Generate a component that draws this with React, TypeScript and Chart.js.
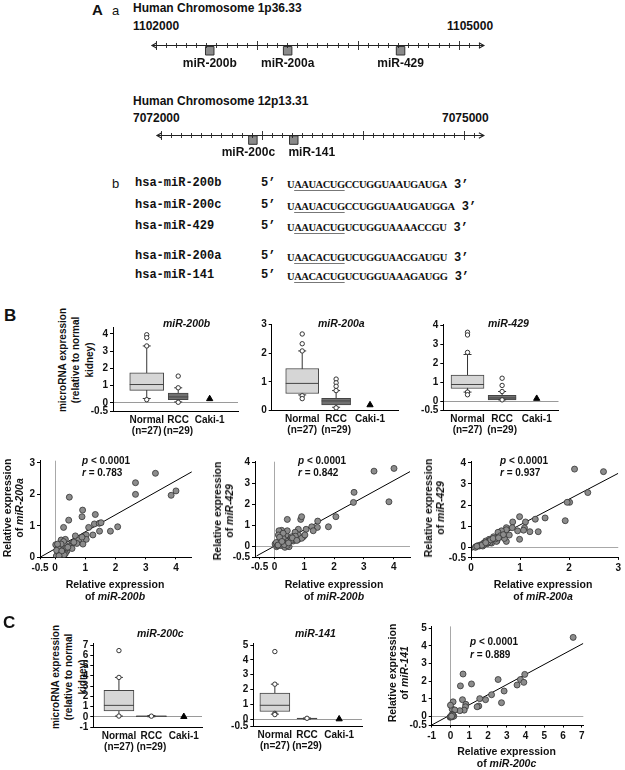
import React, { useEffect, useRef } from "react";
import { Chart, registerables } from "chart.js";
Chart.register(...registerables);

const SANS = "'Liberation Sans', Arial, Helvetica, sans-serif";
const MONO = "'Liberation Mono', 'Courier New', monospace";
const SERIF = "'Liberation Serif', 'Times New Roman', serif";

// ---------- Panel A (a): chromosome maps ----------
const chr1Genes = ["miR-200b", "miR-200a", "miR-429"];
const chr1Positions = [1102533, 1103305, 1104424];
const chr1Labels = ["1102000", "1105000"];
const chr12Genes = ["miR-200c", "miR-141"];
const chr12Positions = [7072911, 7073316];
const chr12Labels = ["7072000", "7075000"];

// ---------- Panel A (b): sequences ----------
const seqNames = ["hsa-miR-200b", "hsa-miR-200c", "hsa-miR-429", "hsa-miR-200a", "hsa-miR-141"];
const seqs = [
  "UAAUACUGCCUGGUAAUGAUGA",
  "UAAUACUGCCUGGUAAUGAUGGA",
  "UAAUACUGUCUGGUAAAACCGU",
  "UAACACUGUCUGGUAACGAUGU",
  "UAACACUGUCUGGUAAAGAUGG",
];

// ---------- Box plots: [lower whisker, Q1, median, Q3, upper whisker] ----------
const boxCategories = [["Normal", "(n=27)"], ["RCC", "(n=29)"], ["Caki-1"]];
const miR200bNormal = [0.25, 0.72, 1.06, 1.74, 3.3];
const miR200bNormalOut = [3.95, 3.78, 3.3, 0.18];
const miR200bRCC = [0.05, 0.18, 0.34, 0.57, 0.87];
const miR200bRCCOut = [1.55, 0.87, 0.03];
const miR200bCaki = [0.23];

const miR200aNormal = [0.55, 0.6, 0.95, 1.47, 2.08];
const miR200aNormalOut = [2.67, 2.33, 2.08, 0.52, 0.42];
const miR200aRCC = [0.12, 0.2, 0.34, 0.43, 0.7];
const miR200aRCCOut = [1.1, 0.97, 0.85, 0.7, 0.1];
const miR200aCaki = [0.2];

const miR429Normal = [0.47, 0.66, 0.87, 1.37, 2.45];
const miR429NormalOut = [3.62, 3.48, 2.56, 0.47, 0.33];
const miR429RCC = [0.06, 0.06, 0.16, 0.3, 0.5];
const miR429RCCOut = [1.2, 0.82, 0.5, 0.06];
const miR429Caki = [0.13];

const miR200cNormal = [0.09, 0.59, 1.13, 2.6, 3.85];
const miR200cNormalOut = [6.46, 3.85, 0.09];
const miR200cRCC = [0.02, 0.03, 0.07, 0.12, 0.14];
const miR200cRCCOut = [0.08];
const miR200cCaki = [0.03];

const miR141Normal = [0.33, 0.51, 0.93, 1.75, 2.36];
const miR141NormalOut = [4.57, 2.36, 0.38, 0.3];
const miR141RCC = [0.0, 0.01, 0.03, 0.06, 0.07];
const miR141RCCOut = [0.05];
const miR141Caki = [0.0];

// ---------- Scatter plots ----------
const s200bX = [3.32, 2.66, 2.66, 4.0, 3.84, 0.47, 0.91, 0.45, 0.89, 1.33, 0.28, 1.11, 1.3, 1.46, 1.52, 1.47, 1.83, 2.07, 1.25, 1.03, 1.03, 0.67, 0.78, 0.89, 0.56, 0.72, 0.92, 0.5, 0.06, 0.12, 0.17, 0.23, 0.28, 0.39, 0.2, 0.34, 0.28, 0.04, 0.09, 0.45, 0.34, 0.56, 0.26, 0.14, 0.02, 0.2, 0.1, 0.62, 0.38, 0.16, 0.3, 0.05, 0.22, 0.42, 0.08, 0.13];
const s200aY = [2.67, 2.37, 2.0, 2.11, 1.97, 1.91, 1.5, 1.18, 1.29, 1.36, 0.95, 0.95, 1.06, 1.08, 1.1, 0.83, 0.83, 0.97, 0.71, 0.71, 0.57, 0.68, 0.55, 0.64, 0.44, 0.44, 0.42, 0.36, 0.36, 0.24, 0.1, 0.03, 0.28, 0.2, 0.55, 0.57, 0.5, 0.04, 0.18, 0.36, 0.12, 0.28, 0.12, 0.28, 0.4, 0.42, 0.3, 0.48, 0.3, 0.15, 0.08, 0.22, 0.2, 0.32, 0.42, 0.05];
const reg200bVs200a = [{ x: -0.5, y: 0.0 }, { x: 4.53, y: 2.72 }];

const s200bX2 = [3.34, 4.01, 2.67, 2.65, 3.84, 0.88, 0.91, 0.43, 1.45, 2.06, 1.81, 1.44, 1.25, 1.3, 1.06, 0.8, 0.8, 0.69, 0.8, 0.52, 0.63, 0.39, 0.39, 0.43, 0.97, 0.58, 0.91, 1.02, 0.02, 0.07, 0.13, 0.18, 0.2, 0.24, 0.15, 0.27, 0.35, 0.29, 0.2, 0.13, 0.35, 0.49, 0.29, 0.43, 0.06, 0.1, 0.56, 0.7, 0.28, 0.17, 0.33, 0.47, 0.12, 0.6, 0.25, 0.75];
const s429Y = [3.6, 3.73, 2.59, 2.11, 2.14, 1.3, 1.43, 1.3, 1.22, 1.43, 0.95, 0.92, 0.95, 0.76, 0.83, 0.83, 0.56, 0.69, 0.35, 0.35, 0.27, 0.27, 0.56, 0.76, 0.48, 0.48, 0.4, 0.56, 0.13, 0.0, 0.13, 0.32, 0.56, 0.78, 0.76, 0.06, 0.13, 0.4, 0.06, 0.56, -0.03, 0.0, 0.64, 0.06, 0.2, 0.05, 0.3, 0.5, 0.2, 0.45, 0.1, 0.18, 0.08, 0.42, 0.25, 0.3];
const reg200bVs429 = [{ x: -0.6, y: -0.44 }, { x: 4.55, y: 3.58 }];

const s200aX = [2.11, 2.7, 2.38, 2.01, 1.96, 1.92, 1.51, 1.31, 1.37, 1.2, 1.11, 1.09, 1.07, 0.99, 0.99, 0.95, 0.85, 0.84, 0.72, 0.72, 0.72, 0.58, 0.57, 0.53, 0.62, 0.55, 0.48, 0.44, 0.37, 0.3, 0.26, 0.24, 0.17, 0.1, 0.33, 0.42, 0.52, 0.64, 0.68, 0.46, 0.39, 0.78, 0.09, 0.2, 0.14, 0.35, 0.6, 0.28, 0.5, 0.22, 0.66, 0.4, 0.3, 0.45, 0.56, 0.12];
const s429Y2 = [3.7, 3.58, 2.59, 2.13, 2.13, 1.26, 1.39, 1.33, 0.74, 0.74, 1.2, 0.92, 0.81, 1.45, 0.38, 0.78, 1.2, 0.93, 0.93, 0.83, 0.28, 0.63, 0.5, 0.31, 0.78, 0.71, 0.46, 0.3, 0.38, 0.3, 0.2, 0.06, 0.06, 0.03, 0.17, 0.2, 0.28, 0.5, 0.42, 0.5, 0.22, 0.58, 0.0, 0.12, 0.08, 0.25, 0.55, 0.15, 0.4, 0.1, 0.6, 0.35, 0.22, 0.42, 0.45, 0.05];
const reg200aVs429 = [{ x: 0, y: -0.16 }, { x: 3, y: 3.5 }];

const s200cX = [6.54, 3.96, 3.73, 3.91, 3.55, 2.54, 2.86, 2.72, 2.19, 1.87, 1.56, 1.51, 1.42, 1.12, 0.67, 0.53, 0.64, 0.82, 0.8, 0.73, 0.5, 0.14, 0.09, 0.0, 0.23, 0.0, 0.1, 0.18, -0.02, 0.09, 0.05, 0.03, 0.12, 0.02, 0.06];
const s141Y = [4.48, 2.39, 2.1, 1.94, 1.79, 2.1, 1.45, 0.79, 1.24, 0.96, 1.02, 0.6, 0.56, 1.85, 2.41, 1.74, 0.96, 0.7, 0.56, 0.37, 0.34, 0.84, 0.43, 0.65, 0.38, 0.0, 0.0, 0.03, -0.03, 0.13, 0.05, 0.02, 0.08, -0.01, 0.03];
const reg200cVs141 = [{ x: -1, y: -0.47 }, { x: 7.08, y: 4.14 }];

// ---------- helpers ----------
type Area = { L: number; T: number; R: number; B: number };

function place(a: Area, yw: number, xh: number, pt: number, pr: number) {
  const left = Math.floor(a.L - yw);
  const top = Math.floor(a.T - pt);
  const width = Math.ceil(a.R + pr) - left;
  const height = Math.ceil(a.B + xh) - top;
  return { left, top, width, height, yw: a.L - left, pt: a.T - top, pr: left + width - a.R, xh: top + height - a.B };
}

const tickFont = { family: SANS, size: 10, weight: "bold" as const, lineHeight: 1.1 };

function ChartCanvas({ left, top, width, height, make }: any) {
  const ref = useRef<HTMLCanvasElement>(null);
  useEffect(() => {
    const c = new Chart(ref.current as HTMLCanvasElement, make());
    return () => c.destroy();
  }, []);
  return <canvas ref={ref} width={width} height={height} style={{ position: "absolute", left, top, width, height }} />;
}

const baseOpts = {
  animation: false,
  responsive: false,
  devicePixelRatio: 1,
  events: [],
  plugins: { legend: { display: false }, tooltip: { enabled: false }, title: { display: false } },
};

const chromPlugin = {
  id: "chromAxis",
  afterDatasetsDraw(chart: any, _a: any, o: any) {
    const { ctx } = chart;
    const xs = chart.scales.x;
    const ys = chart.scales.y;
    const py = Math.round(ys.getPixelForValue(o.level)) + 0.5;
    const x0 = xs.getPixelForValue(o.from);
    const x1 = xs.getPixelForValue(o.to);
    ctx.save();
    ctx.strokeStyle = "#222";
    ctx.lineWidth = 1.1;
    ctx.beginPath();
    ctx.moveTo(x0, py);
    ctx.lineTo(x1, py);
    ctx.moveTo(x0 + 5, py - 2.8);
    ctx.lineTo(x0, py);
    ctx.lineTo(x0 + 5, py + 2.8);
    ctx.moveTo(x1 - 5, py - 2.8);
    ctx.lineTo(x1, py);
    ctx.lineTo(x1 - 5, py + 2.8);
    ctx.stroke();
    ctx.lineWidth = 0.9;
    ctx.beginPath();
    for (let v = o.tickFrom; v <= o.tickTo + 1e-6; v += o.step) {
      const px = Math.round(xs.getPixelForValue(v)) + 0.5;
      const isMajor = Math.abs((v - o.tickFrom) % o.major) < 1e-6;
      const h = isMajor ? 4.5 : 2.5;
      ctx.moveTo(px, py - h);
      ctx.lineTo(px, py + h);
    }
    ctx.stroke();
    const meta = chart.getDatasetMeta(0);
    ctx.fillStyle = "#111";
    ctx.font = `bold 12px ${SANS}`;
    ctx.textAlign = "center";
    ctx.textBaseline = "middle";
    meta.data.forEach((pt: any, i: number) => {
      ctx.fillText(o.labels[i], pt.x + (o.labelDx[i] || 0), pt.y + o.labelDy);
    });
    ctx.restore();
  },
};

function chromConfig(genes: string[], positions: number[], min: number, max: number, from: number, to: number, tickFrom: number, tickTo: number, boxLevel: number, labelDx: number[], labelDy: number) {
  return () => ({
    type: "scatter",
    data: {
      datasets: [
        {
          data: positions.map((p) => ({ x: p, y: boxLevel })),
          pointStyle: "rect",
          pointRadius: 6,
          backgroundColor: "#8a8a8a",
          borderColor: "#333",
          borderWidth: 1,
        },
      ],
    },
    options: {
      ...baseOpts,
      layout: { padding: 0 },
      scales: {
        x: { type: "linear", display: false, min, max },
        y: { type: "linear", display: false, min: 0, max: 1 },
      },
      plugins: {
        ...baseOpts.plugins,
        chromAxis: { level: 0.74, from, to, tickFrom, tickTo, step: 100, major: 1000, labels: genes, labelDx, labelDy },
      },
    },
    plugins: [chromPlugin],
  });
}

type Group = { stats: number[]; out: number[]; width: number; fill: string };
type BoxSpec = { area: Area; xr: number[]; yr: number[]; yTicks: number[]; groups: Group[]; caki: number[] };

function boxChart(s: BoxSpec, key: string) {
  const p = place(s.area, 34, 30, 8, 6);
  const make = () => {
    const datasets: any[] = [];
    s.groups.forEach((g, i) => {
      const x = i + 1;
      const [lo, q1, med, q3, hi] = g.stats;
      datasets.push({ type: "line", data: [{ x, y: lo }, { x, y: hi }], borderColor: "#333", borderWidth: 1, pointRadius: 0, order: 6 });
      datasets.push({
        type: "bar",
        data: [{ x, y: [q1, q3] }],
        backgroundColor: g.fill,
        borderColor: "#444",
        borderWidth: 1,
        borderSkipped: false,
        grouped: false,
        barThickness: g.width,
        maxBarThickness: g.width,
        order: 5,
      });
      datasets.push({ type: "scatter", data: [{ x, y: med }], pointStyle: "line", pointRadius: g.width / 2, borderColor: "#444", pointBorderColor: "#444", borderWidth: 1, pointBorderWidth: 1, order: 4 });
      datasets.push({ type: "scatter", data: [{ x, y: lo }, { x, y: hi }], pointStyle: "line", pointRadius: 4, borderColor: "#333", pointBorderColor: "#333", borderWidth: 1, pointBorderWidth: 1, order: 4 });
      datasets.push({
        type: "scatter",
        data: g.out.map((v) => ({ x, y: v })),
        pointStyle: "circle",
        pointRadius: 2.2,
        backgroundColor: "#fff",
        pointBackgroundColor: "#fff",
        borderColor: "#333",
        pointBorderColor: "#333",
        borderWidth: 1,
        pointBorderWidth: 1,
        order: 2,
      });
    });
    datasets.push({
      type: "scatter",
      data: s.caki.map((v) => ({ x: 3, y: v })),
      pointStyle: "triangle",
      pointRadius: 3.6,
      backgroundColor: "#000",
      pointBackgroundColor: "#000",
      borderColor: "#000",
      pointBorderColor: "#000",
      order: 1,
    });
    return {
      type: "scatter",
      data: { datasets },
      options: {
        ...baseOpts,
        layout: { padding: { top: p.pt, right: p.pr, left: 0, bottom: 0 } },
        scales: {
          x: {
            type: "linear",
            min: s.xr[0],
            max: s.xr[1],
            offset: false,
            afterBuildTicks: (sc: any) => {
              sc.ticks = [1, 2, 3].map((v) => ({ value: v }));
            },
            ticks: {
              autoSkip: false,
              maxRotation: 0,
              padding: 3,
              color: "#111",
              font: tickFont,
              callback: (v: number) => boxCategories[Math.round(v) - 1],
            },
            grid: { display: false, offset: false, drawTicks: false },
            border: { color: "#000", width: 1 },
            afterFit: (sc: any) => {
              sc.height = p.xh;
            },
          },
          y: {
            type: "linear",
            min: s.yr[0],
            max: s.yr[1],
            afterBuildTicks: (sc: any) => {
              sc.ticks = s.yTicks.map((v) => ({ value: v }));
            },
            ticks: { autoSkip: false, padding: 2, color: "#111", font: tickFont, callback: (v: number) => String(v) },
            grid: {
              color: (c: any) => (c.tick && c.tick.value === 0 ? "#9a9a9a" : "rgba(0,0,0,0)"),
              tickColor: "#000",
              tickLength: 3,
              lineWidth: 1,
              offset: false,
            },
            border: { color: "#000", width: 1 },
            afterFit: (sc: any) => {
              sc.width = p.yw;
            },
          },
        },
      },
    };
  };
  return <ChartCanvas key={key} left={p.left} top={p.top} width={p.width} height={p.height} make={make} />;
}

type ScatterSpec = { area: Area; xr: number[]; yr: number[]; xTicks: number[]; yTicks: number[]; xs: number[]; ys: number[]; reg: { x: number; y: number }[] };

function scatterChart(s: ScatterSpec, key: string, pr = 8) {
  const p = place(s.area, 30, 20, 8, pr);
  const make = () => ({
    type: "scatter",
    data: {
      datasets: [
        { type: "scatter", data: s.xs.map((x, i) => ({ x, y: s.ys[i] })), pointRadius: 3, backgroundColor: "#8c8c8c", pointBackgroundColor: "#8c8c8c", borderColor: "#333", pointBorderColor: "#333", borderWidth: 0.8, pointBorderWidth: 0.8, order: 1 },
        { type: "line", data: s.reg, borderColor: "#000", borderWidth: 1, pointRadius: 0, order: 2 },
      ],
    },
    options: {
      ...baseOpts,
      layout: { padding: { top: p.pt, right: p.pr, left: 0, bottom: 0 } },
      scales: {
        x: {
          type: "linear",
          min: s.xr[0],
          max: s.xr[1],
          offset: false,
          afterBuildTicks: (sc: any) => {
            sc.ticks = s.xTicks.map((v) => ({ value: v }));
          },
          ticks: { autoSkip: false, maxRotation: 0, padding: 3, color: "#111", font: tickFont, callback: (v: number) => String(v) },
          grid: { color: (c: any) => (c.tick && c.tick.value === 0 ? "#a8a8a8" : "rgba(0,0,0,0)"), tickColor: "#000", tickLength: 2, offset: false },
          border: { color: "#000", width: 1 },
          afterFit: (sc: any) => {
            sc.height = p.xh;
          },
        },
        y: {
          type: "linear",
          min: s.yr[0],
          max: s.yr[1],
          afterBuildTicks: (sc: any) => {
            sc.ticks = s.yTicks.map((v) => ({ value: v }));
          },
          ticks: { autoSkip: false, padding: 2, color: "#111", font: tickFont, callback: (v: number) => String(v) },
          grid: { color: (c: any) => (c.tick && c.tick.value === 0 ? "#a8a8a8" : "rgba(0,0,0,0)"), tickColor: "#000", tickLength: 3, offset: false },
          border: { color: "#000", width: 1 },
          afterFit: (sc: any) => {
            sc.width = p.yw;
          },
        },
      },
    },
  });
  return <ChartCanvas key={key} left={p.left} top={p.top} width={p.width} height={p.height} make={make} />;
}

function Txt({ x, y, children, size = 10.5, align = "left", bold = true, italic = false, family = SANS }: any) {
  const tx = align === "left" ? "0" : align === "center" ? "-50%" : "-100%";
  return (
    <div
      style={{
        position: "absolute",
        left: x,
        top: y,
        transform: `translate(${tx},-50%)`,
        fontFamily: family,
        fontSize: size,
        fontWeight: bold ? 700 : 400,
        fontStyle: italic ? "italic" : "normal",
        lineHeight: 1,
        whiteSpace: "nowrap",
        color: "#111",
      }}
    >
      {children}
    </div>
  );
}

function VTxt({ cx, cy, lines, size = 10.5, lh = 12 }: any) {
  return (
    <div
      style={{
        position: "absolute",
        left: cx,
        top: cy,
        transform: "translate(-50%,-50%) rotate(-90deg)",
        textAlign: "center",
        whiteSpace: "nowrap",
        fontFamily: SANS,
        fontWeight: 700,
        fontSize: size,
        lineHeight: `${lh}px`,
        color: "#111",
      }}
    >
      {lines.map((l: any, i: number) => (
        <div key={i}>{l}</div>
      ))}
    </div>
  );
}

const NORMAL_FILL = "#d6d6d6";
const RCC_FILL = "#717171";

const box200b: BoxSpec = {
  area: { L: 113, T: 317, R: 250, B: 411.4 },
  xr: [-0.072, 3.9],
  yr: [-0.5, 4.4],
  yTicks: [-0.5, 0, 1, 2, 3, 4],
  groups: [
    { stats: miR200bNormal, out: miR200bNormalOut, width: 34, fill: NORMAL_FILL },
    { stats: miR200bRCC, out: miR200bRCCOut, width: 20, fill: RCC_FILL },
  ],
  caki: miR200bCaki,
};
const box200a: BoxSpec = {
  area: { L: 271.7, T: 315, R: 410, B: 410.7 },
  xr: [0.1, 3.84],
  yr: [0, 3],
  yTicks: [0, 1, 2, 3],
  groups: [
    { stats: miR200aNormal, out: miR200aNormalOut, width: 33, fill: NORMAL_FILL },
    { stats: miR200aRCC, out: miR200aRCCOut, width: 29, fill: RCC_FILL },
  ],
  caki: miR200aCaki,
};
const box429: BoxSpec = {
  area: { L: 443.3, T: 315, R: 570, B: 410.5 },
  xr: [0.3, 3.63],
  yr: [-0.5, 4.03],
  yTicks: [-0.5, 0, 1, 2, 3, 4],
  groups: [
    { stats: miR429Normal, out: miR429NormalOut, width: 33, fill: NORMAL_FILL },
    { stats: miR429RCC, out: miR429RCCOut, width: 28, fill: RCC_FILL },
  ],
  caki: miR429Caki,
};
const box200c: BoxSpec = {
  area: { L: 93.3, T: 635, R: 212, B: 727.25 },
  xr: [0.21, 3.56],
  yr: [-1, 7.2],
  yTicks: [-1, 0, 1, 2, 3, 4, 5, 6, 7],
  groups: [
    { stats: miR200cNormal, out: miR200cNormalOut, width: 30, fill: NORMAL_FILL },
    { stats: miR200cRCC, out: miR200cRCCOut, width: 30, fill: RCC_FILL },
  ],
  caki: miR200cCaki,
};
const box141: BoxSpec = {
  area: { L: 253.3, T: 635, R: 371.7, B: 726.4 },
  xr: [0.33, 3.71],
  yr: [-0.5, 5.15],
  yTicks: [-0.5, 0, 1, 2, 3, 4, 5],
  groups: [
    { stats: miR141Normal, out: miR141NormalOut, width: 30, fill: NORMAL_FILL },
    { stats: miR141RCC, out: miR141RCCOut, width: 20, fill: RCC_FILL },
  ],
  caki: miR141Caki,
};

const sc1: ScatterSpec = { area: { L: 40, T: 460.7, R: 191.7, B: 557.3 }, xr: [-0.5, 4.52], yr: [0, 3.07], xTicks: [-0.5, 0, 1, 2, 3, 4], yTicks: [0, 1, 2, 3], xs: s200bX, ys: s200aY, reg: reg200bVs200a };
const sc2: ScatterSpec = { area: { L: 255, T: 461.7, R: 410, B: 557.2 }, xr: [-0.654, 4.547], yr: [-0.5, 4.05], xTicks: [-0.5, 0, 1, 2, 3, 4], yTicks: [-0.5, 0, 1, 2, 3, 4], xs: s200bX2, ys: s429Y, reg: reg200bVs429 };
const sc3: ScatterSpec = { area: { L: 471, T: 461.7, R: 620, B: 557.9 }, xr: [0, 3.0], yr: [-0.5, 4.05], xTicks: [0, 1, 2, 3], yTicks: [-0.5, 0, 1, 2, 3, 4], xs: s200aX, ys: s429Y2, reg: reg200aVs429 };
const sc4: ScatterSpec = { area: { L: 431.7, T: 626.4, R: 583.3, B: 725.55 }, xr: [-1, 7.08], yr: [-0.5, 5.1], xTicks: [-1, 0, 1, 2, 3, 4, 5, 6, 7], yTicks: [-0.5, 0, 1, 2, 3, 4, 5], xs: s200cX, ys: s141Y, reg: reg200cVs141 };

const seqRowY = [183, 204.5, 226, 256, 275];

function PR({ x, y, r }: any) {
  return (
    <>
      <Txt x={x} y={y} size={10}>
        <i>p</i> &lt; 0.0001
      </Txt>
      <Txt x={x} y={y + 12.6} size={10}>
        <i>r</i> = {r}
      </Txt>
    </>
  );
}

function XTitle({ cx, y, name }: any) {
  return (
    <>
      <Txt x={cx} y={y} align="center">Relative expression</Txt>
      <Txt x={cx} y={y + 12} align="center">
        of <i>{name}</i>
      </Txt>
    </>
  );
}

export default function App() {
  return (
    <div style={{ position: "absolute", left: 0, top: 0, width: 625, height: 770, background: "#fff", overflow: "hidden" }}>
      {/* Panel A */}
      <Txt x={92} y={9} size={15}>A</Txt>
      <Txt x={112} y={10} size={13} bold={false}>a</Txt>
      <Txt x={133} y={8} size={12}>Human Chromosome 1p36.33</Txt>
      <Txt x={133} y={25.5} size={12}>{chr1Labels[0]}</Txt>
      <Txt x={447} y={25.5} size={12}>{chr1Labels[1]}</Txt>
      <ChartCanvas left={140} top={30} width={360} height={45} make={chromConfig(chr1Genes, chr1Positions, 1101911.4, 1105340, 1101960, 1105250, 1102000, 1105200, 0.556, [0, 0, 0], 12.5)} />
      <Txt x={133} y={101} size={12}>Human Chromosome 12p13.31</Txt>
      <Txt x={133} y={117.5} size={12}>{chr12Labels[0]}</Txt>
      <Txt x={442} y={117.5} size={12}>{chr12Labels[1]}</Txt>
      <ChartCanvas left={145} top={120} width={360} height={45} make={chromConfig(chr12Genes, chr12Positions, 7071911.4, 7075340, 7071960, 7075200, 7072000, 7075100, 0.578, [-4.5, 18], 13)} />

      <Txt x={112} y={183} size={13} bold={false}>b</Txt>
      {seqNames.map((n, i) => (
        <React.Fragment key={n}>
          <Txt x={135} y={seqRowY[i]} family={MONO} size={12}>{n}</Txt>
          <Txt x={261} y={seqRowY[i]} family={MONO} size={12}>5’</Txt>
          <div style={{ position: "absolute", left: 287, top: seqRowY[i], transform: "translateY(-50%)", whiteSpace: "nowrap", lineHeight: 1, color: "#111" }}>
            <span style={{ fontFamily: SERIF, fontWeight: 700, fontSize: 10.5, letterSpacing: -0.45 }}>
              {seqs[i][0]}
              <span style={{ textDecoration: "underline", textDecorationColor: "#777", textUnderlineOffset: 2 }}>{seqs[i].slice(1, 8)}</span>
              {seqs[i].slice(8)}
            </span>
            <span style={{ fontFamily: MONO, fontWeight: 700, fontSize: 12 }}> 3’</span>
          </div>
        </React.Fragment>
      ))}

      {/* Panel B */}
      <Txt x={4} y={315} size={17}>B</Txt>
      <VTxt cx={75.8} cy={360} size={10} lh={13.3} lines={["microRNA expression", "(relative to normal", "kidney)"]} />
      {boxChart(box200b, "b1")}
      {boxChart(box200a, "b2")}
      {boxChart(box429, "b3")}
      <Txt x={163} y={323} italic>miR-200b</Txt>
      <Txt x={318} y={323} italic>miR-200a</Txt>
      <Txt x={488} y={323} italic>miR-429</Txt>

      {scatterChart(sc1, "s1")}
      {scatterChart(sc2, "s2")}
      {scatterChart(sc3, "s3", 4)}
      <PR x={82} y={460.7} r="0.783" />
      <PR x={298} y={460.7} r="0.842" />
      <PR x={500} y={460.7} r="0.937" />
      <XTitle cx={115} y={584} name="miR-200b" />
      <XTitle cx={334} y={584} name="miR-200b" />
      <XTitle cx={543} y={584} name="miR-200a" />
      <VTxt cx={13} cy={508} lines={["Relative expression", <span key="a">of <i>miR-200a</i></span>]} />
      <VTxt cx={223} cy={511} lines={["Relative expression", <span key="a">of <i>miR-429</i></span>]} />
      <VTxt cx={434} cy={508} lines={["Relative expression", <span key="a">of <i>miR-429</i></span>]} />

      {/* Panel C */}
      <Txt x={3} y={622} size={17}>C</Txt>
      <VTxt cx={69.3} cy={676.7} size={10} lh={13.3} lines={["microRNA expression", "(relative to normal", "kidney)"]} />
      {boxChart(box200c, "c1")}
      {boxChart(box141, "c2")}
      <Txt x={137} y={633.3} italic>miR-200c</Txt>
      <Txt x={295} y={633.3} italic>miR-141</Txt>
      {scatterChart(sc4, "s4")}
      <PR x={470} y={642.3} r="0.889" />
      <XTitle cx={506.5} y={750.7} name="miR-200c" />
      <VTxt cx={398} cy={673} lines={["Relative expression", <span key="a">of <i>miR-141</i></span>]} />
    </div>
  );
}
